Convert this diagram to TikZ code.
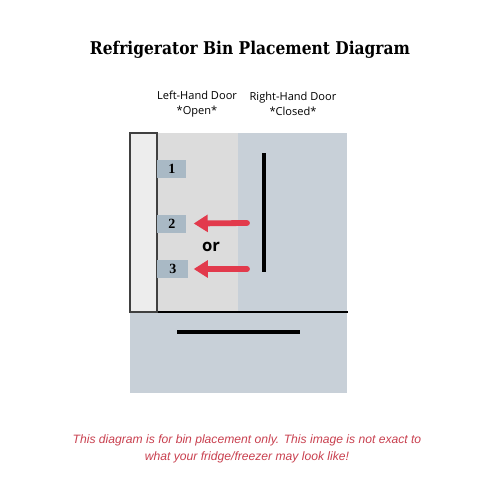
\documentclass[tikz,border=0pt]{standalone}
\usepackage{fontspec}
\setmainfont{Open Sans}
\newfontfamily\titlefont[FakeStretch=0.88]{DejaVu Serif}
\newfontfamily\binfont{Liberation Serif}
\newfontfamily\notefont{Liberation Sans}
\usetikzlibrary{arrows.meta}
\definecolor{doorblue}{HTML}{C8D0D8}
\definecolor{shelfgrey}{HTML}{DCDCDC}
\definecolor{panelgrey}{HTML}{EDEDED}
\definecolor{binblue}{HTML}{A9B9C5}
\definecolor{arrowred}{HTML}{E23A4C}
\definecolor{notered}{HTML}{C9404F}
\begin{document}
\begin{tikzpicture}[x=0.02cm, y=-0.02cm,
    bin/.style={fill=binblue, minimum width=29*0.02cm, minimum height=18*0.02cm,
      inner sep=0pt, font=\binfont\bfseries\fontsize{8}{9}\selectfont},
    handle/.style={line width=1.8pt},
    doorlabel/.style={align=center, font=\fontsize{6.3}{8.5}\selectfont},
    movearrow/.style={arrowred, line width=3.3pt, line cap=round,
      -{Triangle[length=8pt, width=9.5pt]}}]
  \useasboundingbox[fill=white] (0,0) rectangle (500,500);

  % title
  \node (title) at (250,50) {\titlefont\bfseries\fontsize{10}{12}\selectfont Refrigerator Bin Placement Diagram};

  % fridge body
  \fill[doorblue] (238,133) rectangle (347,312);
  \fill[shelfgrey] (157,133) rectangle (238,312);
  \fill[doorblue] (130,312) rectangle (347,393);
  \draw[line width=0.6pt] (130,312) -- (348,312);
  \draw[fill=panelgrey, draw=black!75, line width=0.6pt] (130,133) rectangle (157,312);

  % handles
  \draw[handle] (264,153) -- (264,272);
  \draw[handle] (177,332) -- (300,332);

  % door labels
  \node[doorlabel] (leftdoor) at (197,104) {Left-Hand Door\\*Open*};
  \node[doorlabel] (rightdoor) at (293,104) {Right-Hand Door\\*Closed*};

  % bins
  \node[bin, anchor=west] (bin1) at (157,169) {1};
  \node[bin, anchor=west] (bin2) at (157,223.5) {2};
  \node[bin, anchor=west, minimum width=31*0.02cm] (bin3) at (157,269) {3};
  \node[font=\fontsize{9.5}{10}\selectfont\bfseries] (or) at (211,247) {or};

  % arrows
  \coordinate (from2) at (247,223);
  \coordinate (from3) at (247,269);
  \draw[movearrow] (from2) -- ([xshift=7*0.02cm]bin2.east);
  \draw[movearrow] (from3) -- ([xshift=5*0.02cm]bin3.east);

  % note
  \node[align=center, text=notered, font=\notefont\itshape\fontsize{6.9}{9.8}\selectfont] (note) at (247,449)
    {This diagram is for bin placement only. This image is not exact to\\what your fridge/freezer may look like!};
\end{tikzpicture}
\end{document}
